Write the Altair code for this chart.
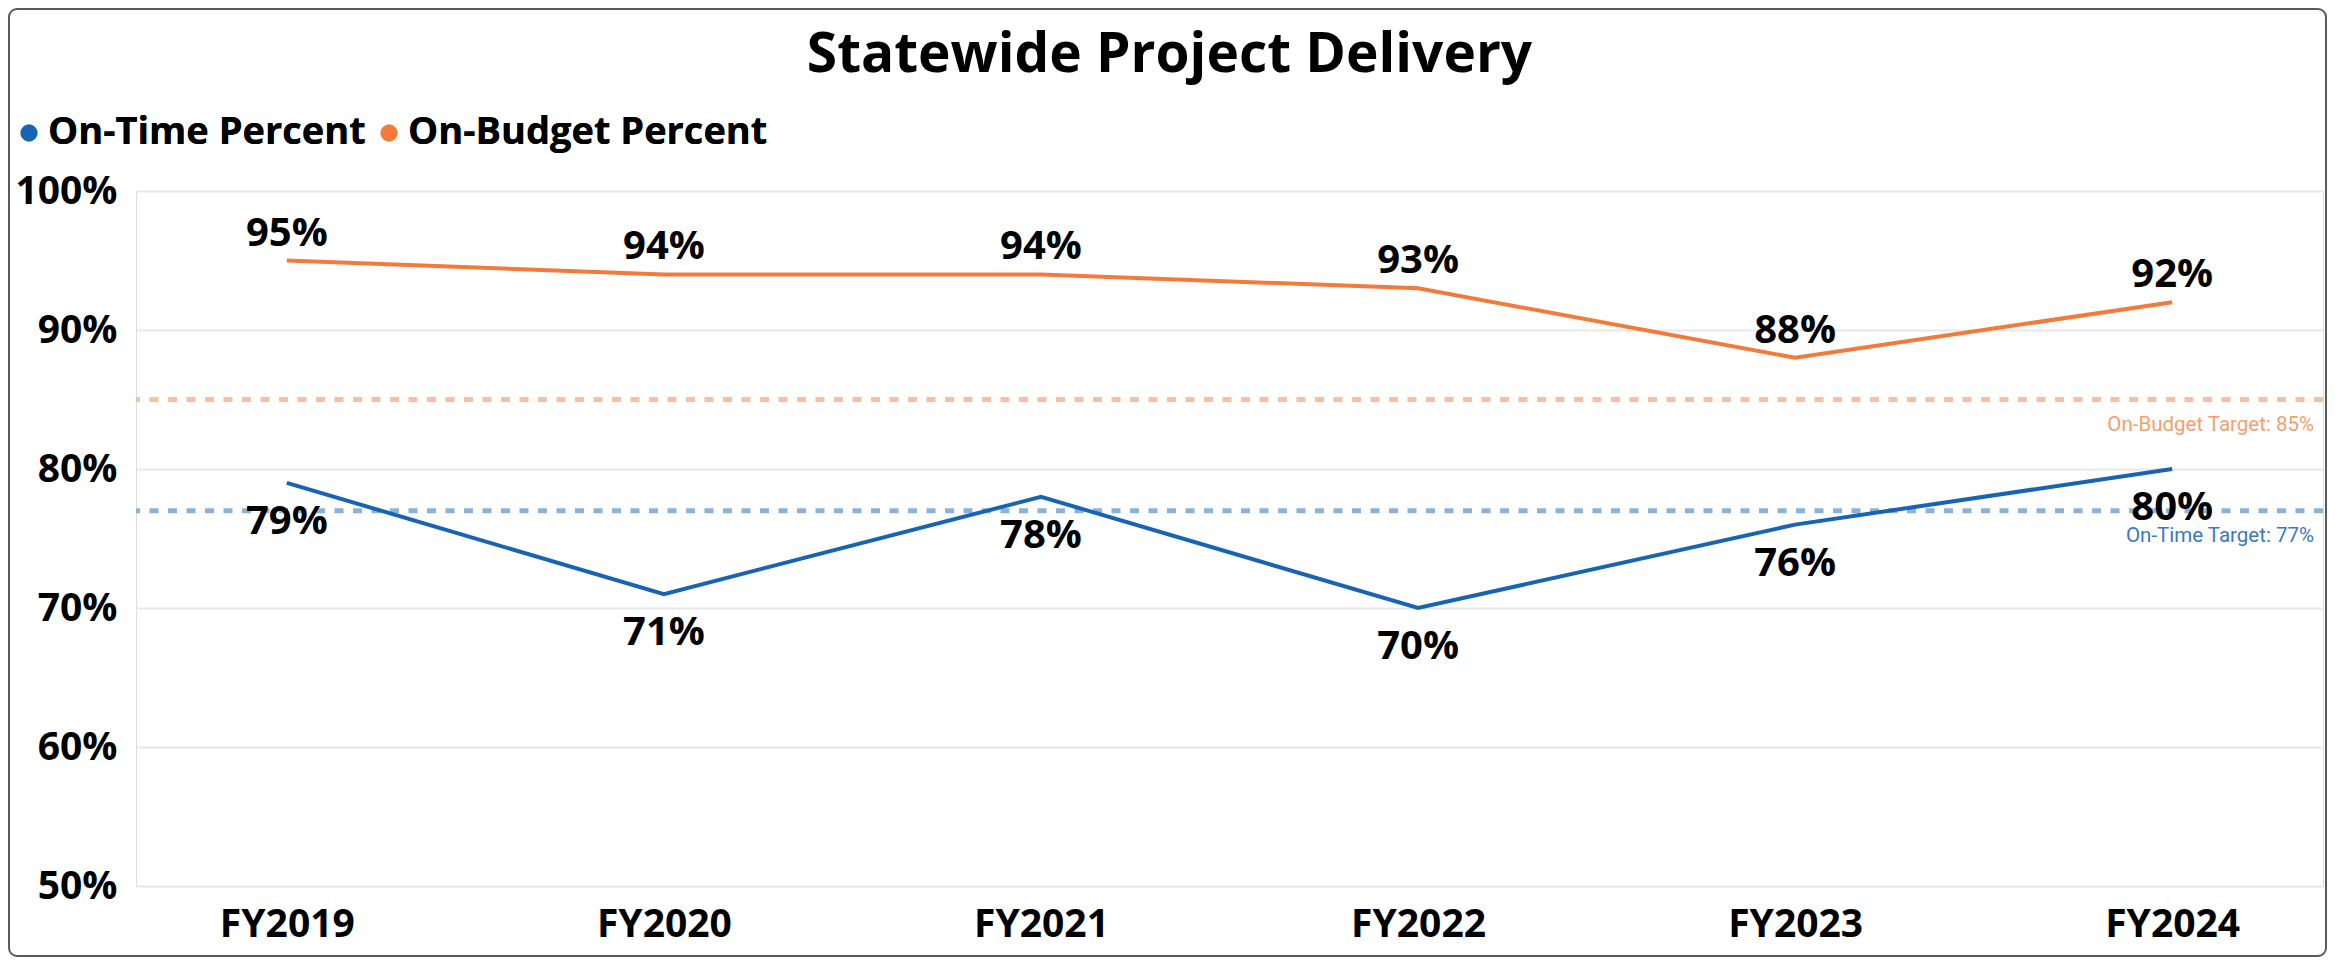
import altair as alt
import pandas as pd

# ---- data ----
years = ["FY2019", "FY2020", "FY2021", "FY2022", "FY2023", "FY2024"]
on_time = [79, 71, 78, 70, 76, 80]
on_budget = [95, 94, 94, 93, 88, 92]
series_names = ["On-Time Percent", "On-Budget Percent"]
series_colors = ["#1864B4", "#F47A3A"]
target_names = ["On-Budget Target", "On-Time Target"]
target_values = [85, 77]
target_line_colors = ["#FBBE9E", "#8BB2DA"]
target_text_colors = ["#F2A06E", "#3C78BE"]
y_ticks = [50, 60, 70, 80, 90, 100]

rows = []
for y, v in zip(years, on_time):
    rows.append({"year": y, "series": series_names[0], "value": v})
for y, v in zip(years, on_budget):
    rows.append({"year": y, "series": series_names[1], "value": v})
df = pd.DataFrame(rows)

tdf = pd.DataFrame({
    "name": target_names,
    "value": target_values,
    "label": [f"{n}: {v}%" for n, v in zip(target_names, target_values)],
})

W, H = 2187, 695
FONT = "Open Sans"

x_enc = alt.X(
    "year:N",
    sort=years,
    scale=alt.Scale(type="point", padding=0.4),
    axis=alt.Axis(
        title=None, domain=False, ticks=False, labelPadding=19,
        labelFontSize=39, labelFontWeight="bold", labelColor="#000000",
        labelFont=FONT, labelAngle=0,
    ),
)
y_enc = alt.Y(
    "value:Q",
    scale=alt.Scale(domain=[50, 100], nice=False, zero=False),
    axis=alt.Axis(
        title=None, domain=False, ticks=False, values=y_ticks,
        labelExpr="datum.value + '%'", labelPadding=19,
        labelFontSize=39, labelFontWeight="bold", labelColor="#000000",
        labelFont=FONT, gridColor="#E8E8E8", gridWidth=2,
    ),
)

color = alt.Color(
    "series:N",
    sort=series_names,
    scale=alt.Scale(domain=series_names, range=series_colors),
    legend=alt.Legend(
        title=None, orient="none", direction="horizontal",
        legendX=-126, legendY=-77,
        symbolType="circle", symbolSize=300, symbolStrokeWidth=0,
        labelFontSize=38, labelFontWeight="bold", labelColor="#000000",
        labelFont=FONT, labelOffset=0, columnPadding=4, labelLimit=0,
        symbolOpacity=1,
    ),
)

base = alt.Chart(df)

points = base.mark_point(filled=True, size=0, opacity=1).encode(x=x_enc, y=y_enc, color=color)
lines = base.mark_line(strokeWidth=4).encode(x=x_enc, y=y_enc, color=color)

budget_labels = base.transform_filter(
    alt.datum.series == series_names[1]
).transform_calculate(label="datum.value + '%'").mark_text(
    dy=-27, baseline="middle", fontSize=40, fontWeight="bold", font=FONT, color="#000000"
).encode(x=alt.X("year:N", sort=years), y="value:Q", text=alt.Text("label:N"))

time_labels = base.transform_filter(
    alt.datum.series == series_names[0]
).transform_calculate(label="datum.value + '%'").mark_text(
    dy=39, baseline="middle", fontSize=40, fontWeight="bold", font=FONT, color="#000000"
).encode(x=alt.X("year:N", sort=years), y="value:Q", text=alt.Text("label:N"))

tbase = alt.Chart(tdf)
target_rules = tbase.mark_rule(strokeWidth=5, strokeDash=[9, 9.5]).encode(
    y="value:Q",
    color=alt.Color("name:N", scale=alt.Scale(domain=target_names, range=target_line_colors), legend=None),
)
target_text = tbase.mark_text(
    align="right", baseline="middle", dy=25, fontSize=20.5, font="Roboto", x=W - 9,
).encode(
    y="value:Q",
    text="label:N",
    color=alt.Color("name:N", scale=alt.Scale(domain=target_names, range=target_text_colors), legend=None),
)

frame = alt.Chart(alt.Data(values=[{"f": 1}])).mark_rect(
    filled=False, stroke="#5A5A5A", strokeWidth=2, cornerRadius=8
).encode(
    x=alt.value(-127), x2=alt.value(W + 3), y=alt.value(-182), y2=alt.value(H + 70)
)

chart = alt.layer(
    target_rules, points, lines, budget_labels, time_labels, target_text, frame
).resolve_scale(color="independent").properties(
    width=W, height=H,
    autosize=alt.AutoSizeParams(type="none"),
    padding={"left": 128, "top": 183, "right": 4, "bottom": 71},
    title=alt.TitleParams(
        "Statewide Project Delivery", fontSize=55, fontWeight="bold", font=FONT,
        color="#000000", anchor="middle", frame="group", dx=-60, offset=-76,
    ),
).configure_view(stroke=None).configure(background="#FFFFFF")

chart.save("out.html", embed_options={"renderer": "svg", "actions": False})
